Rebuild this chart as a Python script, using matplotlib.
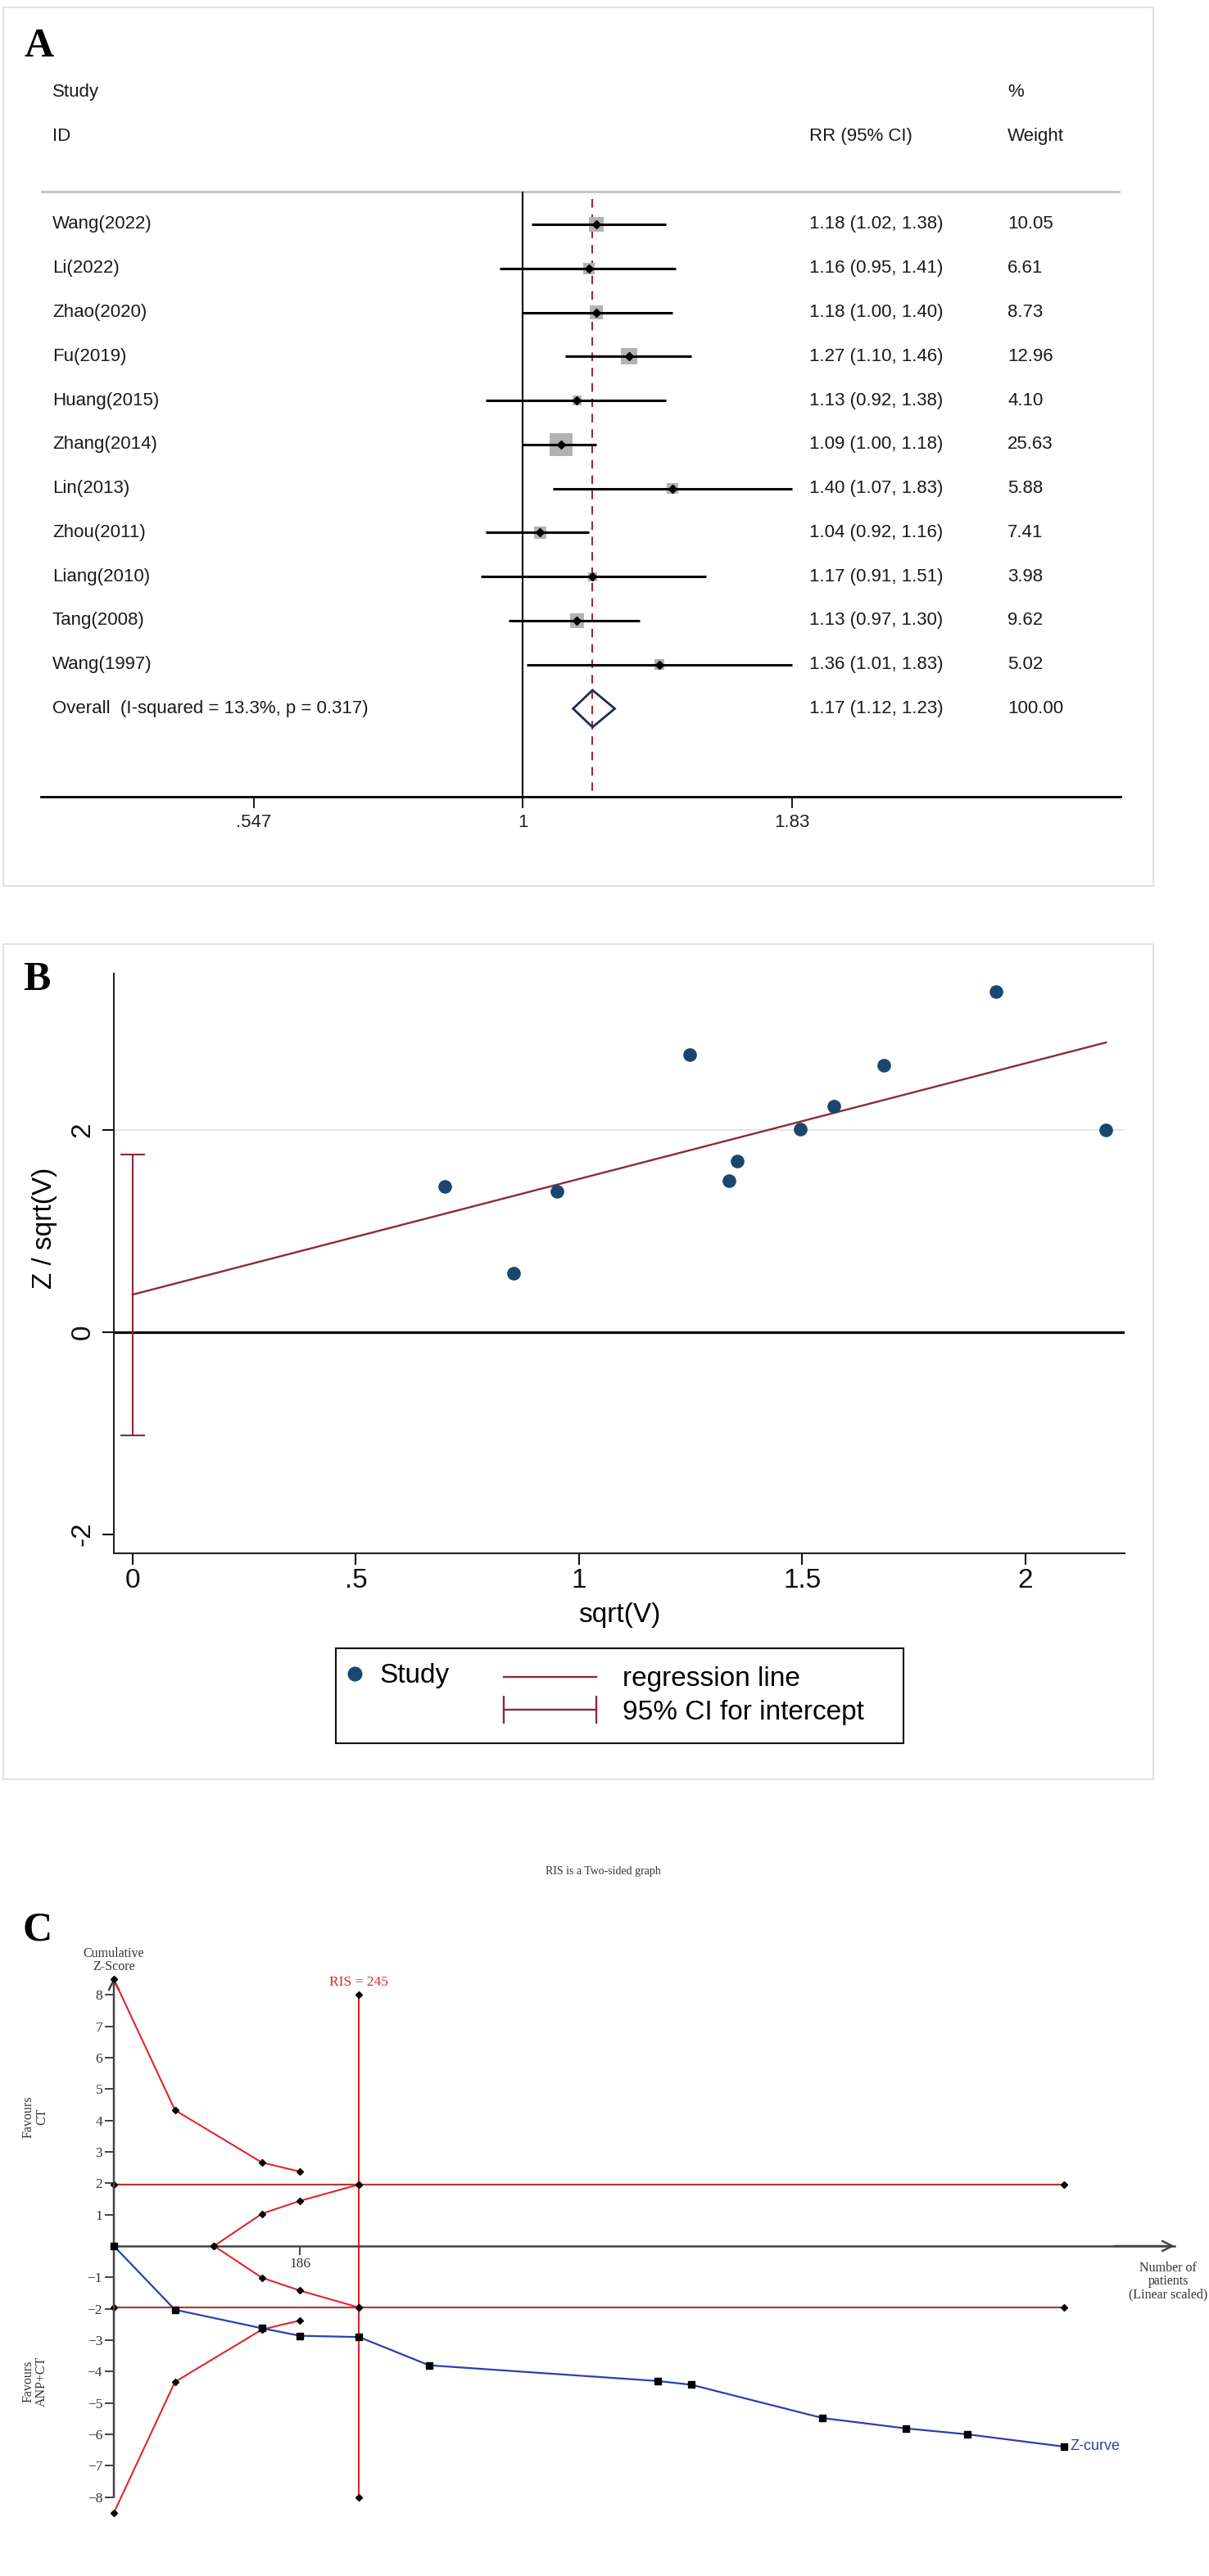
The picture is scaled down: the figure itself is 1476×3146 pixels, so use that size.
import matplotlib
matplotlib.use('Agg')
import matplotlib.pyplot as plt
import numpy as np
from matplotlib.patches import Rectangle
from matplotlib.lines import Line2D
from matplotlib.ticker import NullLocator
from matplotlib.transforms import blended_transform_factory

W, H = 1476, 3146
SANS = 'Liberation Sans'
SERIF = 'Liberation Serif'

# ---- panel A: forest plot ----
studies = ['Wang(2022)', 'Li(2022)', 'Zhao(2020)', 'Fu(2019)', 'Huang(2015)', 'Zhang(2014)',
           'Lin(2013)', 'Zhou(2011)', 'Liang(2010)', 'Tang(2008)', 'Wang(1997)']
rr = [1.18, 1.16, 1.18, 1.27, 1.13, 1.09, 1.40, 1.04, 1.17, 1.13, 1.36]
rr_lo = [1.02, 0.95, 1.00, 1.10, 0.92, 1.00, 1.07, 0.92, 0.91, 0.97, 1.01]
rr_hi = [1.38, 1.41, 1.40, 1.46, 1.38, 1.18, 1.83, 1.16, 1.51, 1.30, 1.83]
weights = [10.05, 6.61, 8.73, 12.96, 4.10, 25.63, 5.88, 7.41, 3.98, 9.62, 5.02]
overall_rr = 1.17
overall_lo = 1.12
overall_hi = 1.23
overall_weight = 100.00
overall_label = 'Overall  (I-squared = 13.3%, p = 0.317)'
a_ticks = [0.547, 1, 1.83]
a_ticklabels = ['.547', '1', '1.83']

# ---- panel B: Egger plot ----
sqrt_v = [0.70, 0.853, 0.95, 1.248, 1.336, 1.354, 1.495, 1.571, 1.683, 1.934, 2.180]
z_over_sqrt_v = [1.44, 0.58, 1.39, 2.75, 1.50, 1.69, 2.01, 2.24, 2.64, 3.37, 2.00]
intercept_ci = [-1.02, 1.76]
b_xticks = [0, 0.5, 1, 1.5, 2]
b_xticklabels = ['0', '.5', '1', '1.5', '2']
b_yticks = [-2, 0, 2]

# ---- panel C: trial sequential analysis ----
patients = [0, 61, 148, 186, 245, 315, 543, 577, 708, 791, 853, 949]
z_curve = [0, -2.03, -2.62, -2.86, -2.90, -3.80, -4.30, -4.42, -5.48, -5.81, -6.00, -6.39]
bound_n = [0, 61, 148, 186]
bound_upper = [8.5, 4.33, 2.66, 2.37]
bound_lower = [-8.5, -4.33, -2.66, -2.37]
futility_n = [100, 148, 186, 245]
futility_upper = [0, 1.03, 1.44, 1.96]
futility_lower = [0, -1.01, -1.42, -1.96]
conventional_z = 1.96
ris = 245
c_yticks = [-8, -7, -6, -5, -4, -3, -2, -1, 1, 2, 3, 4, 5, 6, 7, 8]

fig = plt.figure(figsize=(W / 100, H / 100), dpi=100)


def px_axes(left, top, right, bottom):
    return fig.add_axes([left / W, 1 - bottom / H, (right - left) / W, (bottom - top) / H])


def fig_text(x, y, s, **kw):
    return fig.text(x / W, 1 - y / H, s, **kw)


# light panel frames
for top, bottom in [(9, 1082), (1153, 2173)]:
    fig.add_artist(Rectangle((4 / W, 1 - bottom / H), 1404 / W, (bottom - top) / H,
                             transform=fig.transFigure, fill=False, ec='#e2e2e2', lw=1.5))

# ================= A =================
axA = px_axes(50, 75, 1368, 973)
rows = np.arange(1, len(studies) + 1)
orow = len(studies) + 1
axA.set_xscale('log')
axA.set_xlim(0.339, 3.83)
axA.set_ylim(orow + 2, -2.7)
axA.patch.set_alpha(0)
for s in ['top', 'right', 'left']:
    axA.spines[s].set_visible(False)
axA.spines['bottom'].set_linewidth(2)
axA.set_yticks([])
axA.set_xticks(a_ticks)
axA.set_xticklabels(a_ticklabels, fontfamily=SANS)
axA.xaxis.set_minor_locator(NullLocator())
axA.tick_params(axis='x', length=10, width=1.5, labelsize=16, pad=5, colors='#222222')

axA.axhline(0.25, color='#c2c2c2', lw=2)
axA.vlines(1, 0.25, orow + 2, color='k', lw=1.5)
axA.vlines(overall_rr, 0.42, orow + 2, colors='#9e2a2b', linestyles=(0, (5, 4)), lw=1.5)

side_pt = 4.0 * np.sqrt(weights)
axA.scatter(rr, rows, s=side_pt ** 2, marker='s', color='#b3b3b3', linewidths=0, zorder=2)
axA.hlines(rows, rr_lo, rr_hi, color='k', lw=2.2, zorder=3)
axA.plot(rr, rows, 'D', color='k', ms=5, zorder=4)
axA.fill([overall_lo, overall_rr, overall_hi, overall_rr], [orow, orow - 0.42, orow, orow + 0.42],
         facecolor='none', edgecolor='#1b2a5e', lw=2, zorder=4)

tr = blended_transform_factory(axA.transAxes, axA.transData)
col_lab, col_rr, col_w = 0.0106, 0.7117, 0.8953
tkw = dict(transform=tr, fontsize=16, fontfamily=SANS, va='center', color='#1a1a1a', clip_on=False)
axA.text(col_lab, -2, 'Study', **tkw)
axA.text(col_lab, -1, 'ID', **tkw)
axA.text(col_rr, -1, 'RR (95% CI)', **tkw)
axA.text(col_w, -2, '%', **tkw)
axA.text(col_w, -1, 'Weight', **tkw)
for r, name, e, lo, hi, w in zip(rows, studies, rr, rr_lo, rr_hi, weights):
    axA.text(col_lab, r, name, **tkw)
    axA.text(col_rr, r, f'{e:.2f} ({lo:.2f}, {hi:.2f})', **tkw)
    axA.text(col_w, r, f'{w:.2f}', **tkw)
axA.text(col_lab, orow, overall_label, **tkw)
axA.text(col_rr, orow, f'{overall_rr:.2f} ({overall_lo:.2f}, {overall_hi:.2f})', **tkw)
axA.text(col_w, orow, f'{overall_weight:.2f}', **tkw)

fig_text(30, 57, 'A', fontsize=36, fontweight='bold', fontfamily=SERIF, va='center', ha='left')

# ================= B =================
navy = '#1a476f'
maroon = '#8b2a3a'
axB = px_axes(139, 1189, 1373, 1897)
axB.set_xlim(-0.042, 2.222)
axB.set_ylim(-2.19, 3.55)
for s in ['top', 'right']:
    axB.spines[s].set_visible(False)
for s in ['left', 'bottom']:
    axB.spines[s].set_linewidth(1.5)
    axB.spines[s].set_color('#222222')
axB.set_xticks(b_xticks)
axB.set_xticklabels(b_xticklabels, fontfamily=SANS)
axB.set_yticks(b_yticks)
axB.set_yticklabels([f'{t:g}' for t in b_yticks], fontfamily=SANS, rotation=90, va='center')
axB.tick_params(length=10, width=1.5, labelsize=24, colors='#111111')
axB.tick_params(axis='x', pad=3)
axB.tick_params(axis='y', pad=6)

axB.axhline(2, color='#e6e6e6', lw=1.5, zorder=0)
axB.axhline(0, color='k', lw=2.3, zorder=1)
slope, intercept = np.polyfit(sqrt_v, z_over_sqrt_v, 1)
xline = np.array([0, max(sqrt_v)])
axB.plot(xline, intercept + slope * xline, color=maroon, lw=1.7, zorder=2)
axB.errorbar([0], [intercept], yerr=[[intercept - intercept_ci[0]], [intercept_ci[1] - intercept]],
             fmt='none', ecolor=maroon, elinewidth=1.5, capsize=11, capthick=1.5, zorder=2)
axB.scatter(sqrt_v, z_over_sqrt_v, s=12 ** 2, color=navy, zorder=3, linewidths=0)

fig_text(55, 1500, 'Z / sqrt(V)', fontsize=24, fontfamily=SANS, rotation=90, ha='center', va='center')
fig_text(756, 1972, 'sqrt(V)', fontsize=24, fontfamily=SANS, ha='center', va='center')
fig_text(28, 1197, 'B', fontsize=36, fontweight='bold', fontfamily=SERIF, va='center', ha='left')

# legend (two pieces inside one black frame)
fig.add_artist(Rectangle((410 / W, 1 - 2129 / H), 693 / W, 116 / H, transform=fig.transFigure,
                         fill=False, ec='#111111', lw=1.5))
study_h = Line2D([], [], marker='o', ls='none', color=navy, ms=12)
fig.legend([study_h], ['Study'], loc='center left', bbox_to_anchor=(423 / W, 1 - 2047 / H),
           frameon=False, handlelength=0.6, handletextpad=0.6,
           borderpad=0, borderaxespad=0, numpoints=1, prop={'family': SANS, 'size': 24})
reg_h = Line2D([], [], color=maroon, lw=1.7)
ci_h = Line2D([], [], color=maroon, lw=1.7, marker='|', ms=24, mew=1.7)
fig.legend([reg_h, ci_h], ['regression line', '95% CI for intercept'], loc='center left',
           bbox_to_anchor=(605 / W, 1 - 2071 / H), frameon=False, handlelength=4.0,
           handletextpad=0.65, borderpad=0, borderaxespad=0, labelspacing=0.28,
           numpoints=2, prop={'family': SANS, 'size': 24})

# ================= C =================
red = '#e0262b'
dark_red = '#b03a3a'
blue = '#2a40b0'
xmax_c = (1434 - 139) / 1.222
axC = px_axes(139, 2398, 1434, 3088)
axC.set_xlim(0, xmax_c)
axC.set_ylim(-9, 9)
axC.patch.set_alpha(0)
for s in ['top', 'right', 'left']:
    axC.spines[s].set_visible(False)
axC.spines['bottom'].set_position(('data', 0))
axC.spines['bottom'].set_linewidth(1.8)
axC.spines['bottom'].set_color('#444444')
axC.set_yticks(c_yticks)
axC.set_yticklabels([f'{t:d}'.replace('-', '\u2212') for t in c_yticks], fontfamily=SERIF)
axC.set_xticks([bound_n[-1]])
axC.set_xticklabels([str(bound_n[-1])], fontfamily=SERIF)
axC.tick_params(length=8, width=1.3, labelsize=12.5, colors='#333333', pad=2)
arrow_kw = dict(arrowstyle='->', color='#444444', lw=1.8, mutation_scale=22, shrinkA=0, shrinkB=0)
axC.annotate('', xy=(0, 8.55), xytext=(0, -8), arrowprops=arrow_kw, annotation_clip=False)
axC.annotate('', xy=(xmax_c, 0), xytext=(xmax_c - 60, 0), arrowprops=arrow_kw, annotation_clip=False)

mk = dict(marker='D', ms=4.5, mfc='k', mec='k', clip_on=False)
for zc in (conventional_z, -conventional_z):
    axC.plot([0, ris, patients[-1]], [zc, zc, zc], color=dark_red, lw=1.6, zorder=2, **mk)
axC.plot([ris, ris], [-8, 8], color=red, lw=1.5, zorder=2, **mk)
axC.plot(bound_n, bound_upper, color=red, lw=1.5, zorder=3, **mk)
axC.plot(bound_n, bound_lower, color=red, lw=1.5, zorder=3, **mk)
axC.plot(futility_n, futility_upper, color=red, lw=1.5, zorder=3, **mk)
axC.plot(futility_n, futility_lower, color=red, lw=1.5, zorder=3, **mk)
axC.plot(patients, z_curve, color=blue, lw=1.6, marker='s', ms=6, mfc='k', mec='k',
         zorder=4, clip_on=False)
axC.text(ris, 8.4, f'RIS = {ris}', color=red, fontsize=12.5, fontfamily=SERIF, ha='center', va='center')
axC.text(patients[-1] + 6, z_curve[-1], 'Z-curve', color=blue, fontsize=13, fontfamily=SANS,
         ha='left', va='center')

ctext = dict(fontfamily=SERIF, color='#333333', ha='center', va='center')
fig_text(736, 2286, 'RIS is a Two-sided graph', fontsize=10, **ctext)
fig_text(139, 2394, 'Cumulative\nZ-Score', fontsize=11.5, linespacing=1.0, **ctext)
fig_text(1426, 2786, 'Number of\npatients\n(Linear scaled)', fontsize=11.5, linespacing=1.0, **ctext)
fig_text(43, 2585, 'Favours\nCT', fontsize=11.5, rotation=90, linespacing=1.0, **ctext)
fig_text(43, 2908, 'Favours\nANP+CT', fontsize=11.5, rotation=90, linespacing=1.0, **ctext)
fig_text(28, 2357, 'C', fontsize=36, fontweight='bold', fontfamily=SERIF, va='center', ha='left')

fig.savefig('out.png', dpi=100)
